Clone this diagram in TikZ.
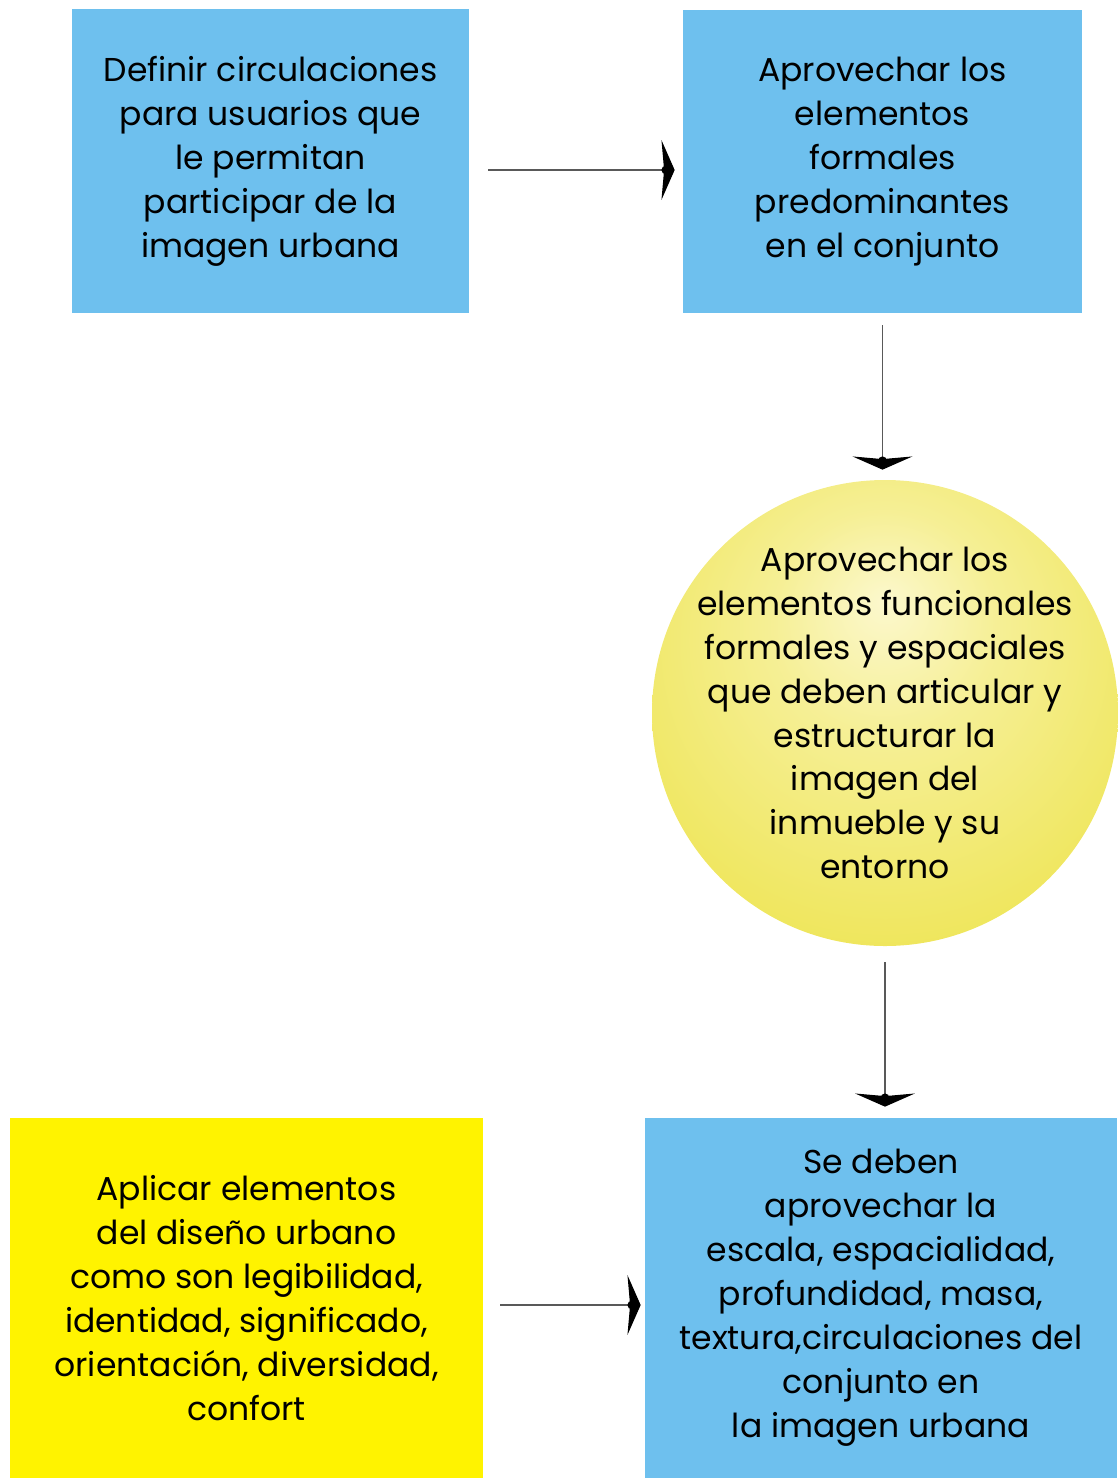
\documentclass[tikz,border=0pt]{standalone}
\usepackage{fontspec}
\setmainfont{Poppins}
\usepackage{tikz}
\usetikzlibrary{positioning,arrows.meta}

\definecolor{boxblue}{RGB}{110,192,238}
\definecolor{boxyellow}{RGB}{255,243,0}
\definecolor{glowin}{RGB}{252,248,205}
\definecolor{glowout}{RGB}{236,226,66}
\pgfdeclareradialshading{circglow}{\pgfpoint{0bp}{12bp}}{%
  color(0bp)=(glowin); color(12bp)=(glowin!60!glowout);
  color(40bp)=(glowout); color(60bp)=(glowout)}

\begin{document}
\begin{tikzpicture}[
    font=\fontsize{18.8}{25}\selectfont,
    goal/.style={fill=boxblue, inner sep=0pt, align=center},
    rule/.style={fill=boxyellow, inner sep=0pt, align=center},
    hub/.style={circle, shading=circglow, inner sep=-0.8cm, minimum size=9.32cm, align=center},
    link/.style={draw=black!65, line width=0.6pt,
      -{Circle[length=5pt,sep=-5pt,black]Stealth[length=7.5pt,width=34pt,inset=1.5pt,black]}}]
  \useasboundingbox (0,0) rectangle (22.34,-29.56);
  \node[goal, minimum width=7.94cm, minimum height=6.08cm] (circ) at (5.41,-3.22)
    {Definir circulaciones\\para usuarios que\\le permitan\\participar de la\\imagen urbana};
  \node[goal, minimum width=7.98cm, minimum height=6.06cm] (formal) at (17.65,-3.23)
    {Aprovechar los\\elementos\\formales\\predominantes\\en el conjunto};
  \node[hub] (func) at (17.7,-14.26)
    {Aprovechar los\\elementos funcionales\\formales y espaciales\\que deben articular y\\estructurar la\\imagen del\\inmueble y su\\entorno};
  \node[rule, minimum width=9.46cm, minimum height=7.2cm] (diseno) at (4.93,-25.96)
    {Aplicar elementos\\del diseño urbano\\como son legibilidad,\\identidad, significado,\\orientación, diversidad,\\confort};
  \node[goal, minimum width=9.44cm, minimum height=7.2cm] (escala) at (17.62,-25.96)
    {Se deben\\aprovechar la\\escala, espacialidad,\\profundidad, masa,\\textura,circulaciones del\\conjunto en\\la imagen urbana};
  \draw[link, shorten <=0.38cm, shorten >=0.16cm]
    ([yshift=-0.18cm]circ.east) -- ([yshift=-0.18cm]circ.east -| formal.west);
  \draw[link, shorten <=0.24cm, shorten >=0.2cm] (formal.south) -- (formal.south |- func.north);
  \draw[link, shorten <=0.32cm, shorten >=0.22cm] (func.south) -- (func.south |- escala.north);
  \draw[link, shorten <=0.34cm, shorten >=0.08cm]
    ([yshift=-0.14cm]diseno.east) -- ([yshift=-0.14cm]diseno.east -| escala.west);
\end{tikzpicture}
\end{document}
